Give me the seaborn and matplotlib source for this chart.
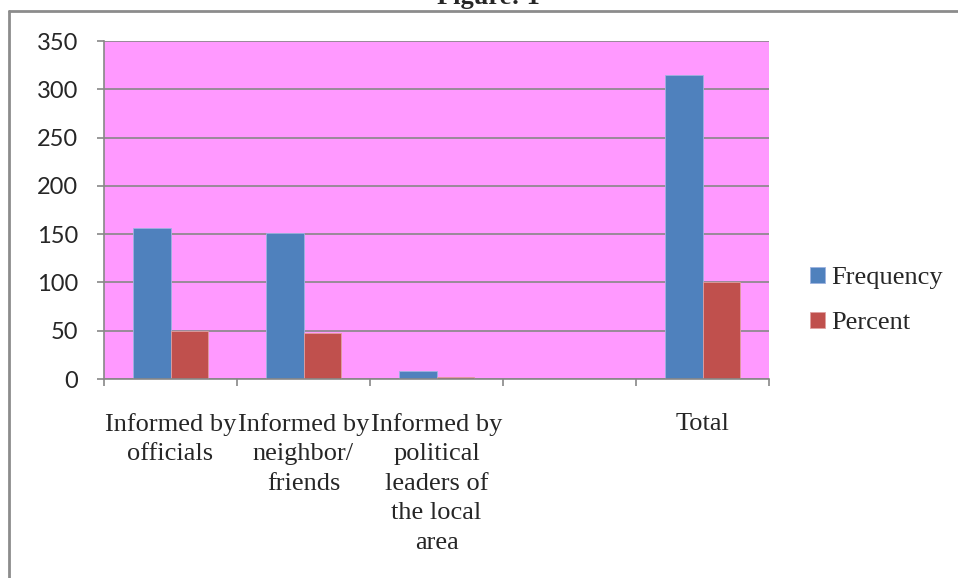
import matplotlib
matplotlib.use("Agg")
import matplotlib.pyplot as plt
from matplotlib.lines import Line2D
import numpy as np
import pandas as pd
import seaborn as sns

# Survey responses: how people were informed
categories = ["Informed by officials", "Informed by neighbor/ friends",
              "Informed by political leaders of the local area", "", "Total"]
tick_labels = ["Informed by\nofficials", "Informed by\nneighbor/\nfriends",
               "Informed by\npolitical\nleaders of\nthe local\narea", "", "Total"]
frequency = [156, 151, 8, np.nan, 315]
percent = [49.5, 47.9, 2.5, np.nan, 100]
series = ["Frequency", "Percent"]
y_ticks = [0, 50, 100, 150, 200, 250, 300, 350]

df = pd.DataFrame({
    "category": categories * 2,
    "series": [series[0]] * len(categories) + [series[1]] * len(categories),
    "value": frequency + percent,
}).dropna()

sns.set_theme(style="white")
plt.rcParams["font.family"] = ["Liberation Serif", "DejaVu Serif"]

W, H = 958, 578
fig = plt.figure(figsize=(W / 100, H / 100), dpi=100)
ax = fig.add_axes([104 / W, (H - 379) / H, 665 / W, 338 / H])

palette = {"Frequency": "#4F81BD", "Percent": "#C0504D"}
sns.barplot(data=df, x="category", y="value", hue="series", order=categories,
            hue_order=series, palette=palette, width=0.57, ax=ax,
            saturation=1, edgecolor="#9DB3E0", linewidth=0.6, errorbar=None,
            legend=True)
for patch in ax.patches:
    if patch.get_facecolor()[0] > 0.6:
        patch.set_edgecolor("#E0A0A0")

ax.set_facecolor("#FF99FF")
ax.set_xlim(-0.5, len(categories) - 0.5)
ax.set_ylim(0, 350)
ax.set_yticks(y_ticks)
ax.set_yticklabels([str(v) for v in y_ticks], fontfamily="Lato", fontsize=17)
ax.yaxis.grid(True, color="#878787", linewidth=1.2)
ax.set_axisbelow(True)
ax.set_xlabel("")
ax.set_ylabel("")

ax.set_xticks(range(len(categories)))
ax.set_xticklabels(tick_labels, fontsize=19, linespacing=1.44,
                   ha="center", va="top")
ax.set_xticks(np.arange(-0.5, len(categories), 1.0), minor=True)
ax.tick_params(axis="x", which="major", length=0, pad=24.5)
ax.tick_params(axis="x", which="minor", length=5, width=1.2, color="#878787",
               direction="out", bottom=True)
ax.tick_params(axis="y", which="major", length=5, width=1.2, color="#878787",
               direction="out", left=True, pad=13.5)

for side in ["top", "right"]:
    ax.spines[side].set_visible(False)
for side in ["left", "bottom"]:
    ax.spines[side].set_color("#878787")
    ax.spines[side].set_linewidth(1.2)

handles, labels = ax.get_legend_handles_labels()
ax.get_legend().remove()
fig.legend(handles, labels, loc="center left",
           bbox_to_anchor=(797 / W, 1 - 300.5 / H), frameon=False,
           fontsize=19, handlelength=0.55, handleheight=0.55,
           handletextpad=0.25, labelspacing=0.88, borderpad=0)

# Outer chart frame and title
frame = dict(color="#8C8C8C", linewidth=2.0, transform=fig.transFigure)
fig.add_artist(Line2D([8.5 / W, 1.01], [1 - 10.5 / H, 1 - 10.5 / H], **frame))
fig.add_artist(Line2D([8.5 / W, 8.5 / W], [1 - 10.5 / H, -0.01], **frame))
fig.text(488 / W, 1 - 4 / H, "Figure: 1", ha="center", va="baseline",
         fontsize=19, fontweight="bold")

fig.savefig("out.png", dpi=100)
